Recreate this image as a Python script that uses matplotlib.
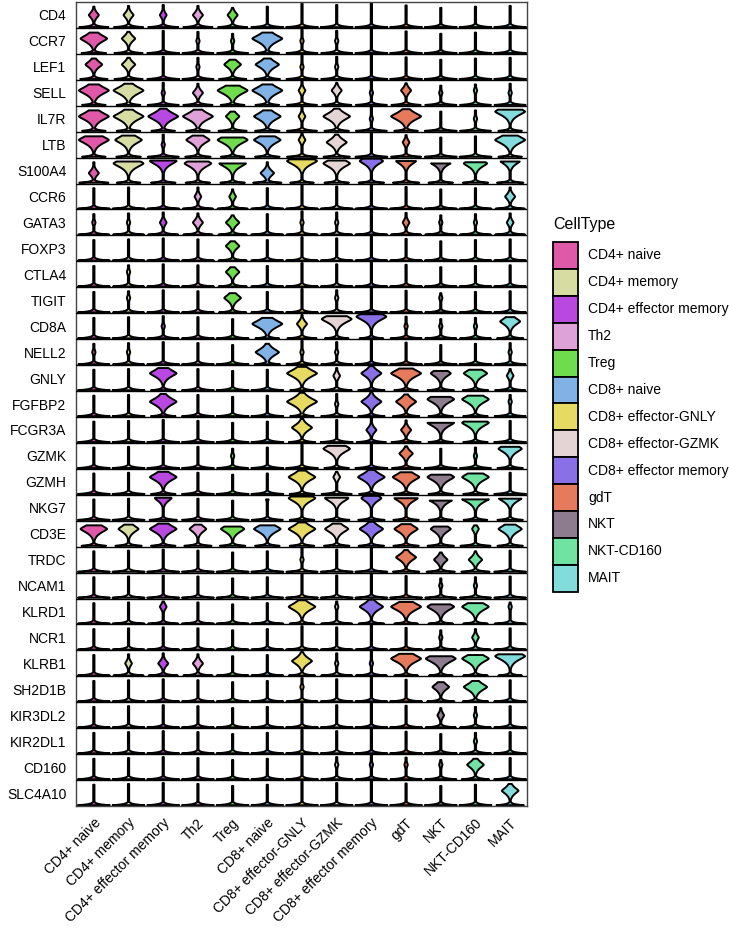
import numpy as np
import matplotlib
matplotlib.use("Agg")
import matplotlib.pyplot as plt
from matplotlib.patches import Rectangle

plt.rcParams['font.family'] = ['Liberation Sans', 'DejaVu Sans']

cell_types = ['CD4+ naive', 'CD4+ memory', 'CD4+ effector memory', 'Th2', 'Treg',
              'CD8+ naive', 'CD8+ effector-GNLY', 'CD8+ effector-GZMK',
              'CD8+ effector memory', 'gdT', 'NKT', 'NKT-CD160', 'MAIT']
colors = ['#E058A8', '#D6DCA2', '#B848E0', '#DEA2D8', '#6EDC4C', '#80B2E6', '#E6DA62',
          '#E4D4D4', '#8A70E6', '#E67A5C', '#8C7C8E', '#70E2A2', '#82DCDC']

genes = ['CD4', 'CCR7', 'LEF1', 'SELL', 'IL7R', 'LTB', 'S100A4', 'CCR6', 'GATA3', 'FOXP3',
         'CTLA4', 'TIGIT', 'CD8A', 'NELL2', 'GNLY', 'FGFBP2', 'FCGR3A', 'GZMK', 'GZMH',
         'NKG7', 'CD3E', 'TRDC', 'NCAM1', 'KLRD1', 'NCR1', 'KLRB1', 'SH2D1B', 'KIR3DL2',
         'KIR2DL1', 'CD160', 'SLC4A10']

# width of the expressing bulb (0 = none, 9 = full), one digit per cell type
bulb_width = ['3323300000000', '8401191100000', '5401571100000', '9913992313111',
              '9999482819019', '9817982602009', '3988849876876', '0002200000003',
              '1123401102112', '0000400000000', '0100400000000', '0100500100100',
              '0010093991116', '1100071100001', '0080009269672', '0080009166881',
              '0000006033880', '0000100804017', '0080008288880', '0050018767997',
              '8685788777627', '0000001006440', '0000000000110', '0020008179881',
              '0000000000120', '0233006119989', '0000001000570', '0000000000210',
              '0000000000010', '0000000111150', '0000000000005']

# height of the bulb centre within the row (digit / 10)
bulb_pos = ['5555555555555', '6655565555555', '6655665555555', '6655666656565',
            '6666666656558', '7757777666557', '4898849899989', '5555555555555',
            '5555555555555', '6666666666666', '6666666666666', '6666666666666',
            '5555566895557', '5555555555555', '7777777677776', '6666666566776',
            '5555556555885', '5555555856558', '7777777777777', '9999999999999',
            '7777777777777', '5555555556555', '5555555555555', '7777777777777',
            '5555555555555', '5555556557778', '6666666666666', '5555555555555',
            '5555555555555', '6666666666666', '6666666666666']

# max expression (stem top) per cell type
stem_top = [0.85, 0.88, 0.92, 0.88, 0.80, 0.85, 0.97, 0.92, 1.0, 0.90, 0.80, 0.85, 0.88]

n_rows = len(genes)
n_cols = len(cell_types)

fig = plt.figure(figsize=(7.29, 9.34), dpi=100)
ax = fig.add_axes([76 / 729, 1 - 806 / 934, (527 - 76) / 729, (806 - 2) / 934])

for i, g in enumerate(genes):
    rb = n_rows - 1 - i
    for j in range(n_cols):
        wv = int(bulb_width[i][j])
        c = int(bulb_pos[i][j]) / 10
        top = stem_top[j]
        v = np.linspace(0, top, 300)
        s = 0.15 + 0.09 * wv / 9
        base = (0.46 - 0.12 * wv / 9) * np.exp(-v / 0.045)
        bulb = 0.43 * wv / 9 * np.exp(-(np.abs(v - c) / s) ** 1.4)
        half = np.maximum.reduce([base, bulb, np.full_like(v, 0.018)])
        y = rb + 0.05 + v * 0.93
        ax.fill_betweenx(y, j - half, j + half, facecolor=colors[j],
                         edgecolor='black', linewidth=1.4, zorder=2)

for k in range(1, n_rows):
    ax.axhline(k, color='black', lw=1.0, zorder=3)

ax.set_xlim(-0.5, n_cols - 0.5)
ax.set_ylim(0, n_rows)
ax.set_yticks(np.arange(n_rows) + 0.5)
ax.set_yticklabels(genes[::-1], fontsize=10)
ax.set_xticks(np.arange(n_cols))
ax.set_xticklabels(cell_types, fontsize=10, rotation=45, ha='right',
                   rotation_mode='anchor')
ax.tick_params(length=0, pad=7)
for sp in ax.spines.values():
    sp.set_color('#444444')
    sp.set_linewidth(1.0)

# legend drawn in pixel space
lax = fig.add_axes([0, 0, 1, 1])
lax.set_xlim(0, 729)
lax.set_ylim(934, 0)
lax.axis('off')
lax.text(553, 225, 'CellType', fontsize=11.5, va='center', ha='left')
key_h = 26.9
for i, (name, col) in enumerate(zip(cell_types, colors)):
    y0 = 242 + i * key_h
    lax.add_patch(Rectangle((553, y0), 25, key_h, facecolor=col, edgecolor='black', lw=1.3))
    lax.text(588, y0 + key_h / 2, name, fontsize=10, va='center', ha='left')

fig.savefig('out.png', dpi=100)
